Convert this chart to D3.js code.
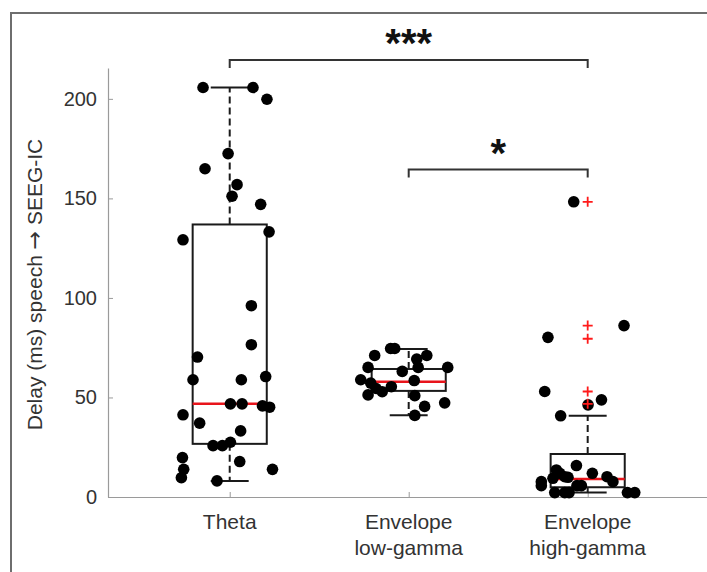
<!DOCTYPE html>
<html><head><meta charset="utf-8">
<script src="https://cdn.jsdelivr.net/npm/d3@7"></script>
<style>body{margin:0;background:#fff}svg{display:block}</style>
</head><body>
<svg id="chart" width="707" height="572"></svg>
<script>
// ---- data ----
const categories = [["Theta"], ["Envelope", "low-gamma"], ["Envelope", "high-gamma"]];
const yTicks = [0, 50, 100, 150, 200];
const yLabelParts = ["Delay (ms) speech ", "\u2192", " SEEG-IC"];

// box statistics
const boxQ1 = [26.7, 53.3, 4.9];
const boxMedian = [46.8, 57.9, 9.1];
const boxQ3 = [136.9, 64.3, 21.6];
const whiskerLow = [8.1, 41.1, 2.2];
const whiskerHigh = [205.7, 74.3, 40.8];
const outliersHighGamma = [148.3, 86.1, 79.5, 53.0, 46.8];

// individual points (value, jitter in category units)
const thetaValues = [205.7, 205.7, 199.8, 172.5, 164.9, 156.9, 151.1, 147.0, 133.2, 129.2, 96.1, 76.5, 70.3, 58.9, 58.9, 60.5, 46.8, 46.8, 45.8, 45.1, 41.3, 37.1, 33.2, 25.8, 25.8, 27.5, 19.8, 17.8, 13.9, 13.9, 9.7, 8.1];
const thetaJitter = [-0.149, 0.130, 0.208, -0.009, -0.138, 0.041, 0.013, 0.173, 0.220, -0.261, 0.121, 0.121, -0.180, -0.205, 0.065, 0.201, 0.004, 0.069, 0.183, 0.223, -0.261, -0.168, 0.061, -0.093, -0.041, 0.004, -0.264, 0.056, -0.257, 0.239, -0.270, -0.071];
const lowGammaValues = [74.6, 74.6, 71.1, 71.1, 69.3, 65.1, 65.1, 65.1, 63.1, 58.9, 57.2, 58.5, 55.4, 54.5, 52.9, 51.3, 50.9, 47.3, 45.5, 41.0];
const lowGammaJitter = [-0.101, -0.078, -0.190, 0.101, 0.045, -0.227, 0.218, 0.053, -0.036, -0.268, -0.212, 0.031, -0.097, -0.182, -0.148, -0.227, 0.034, 0.201, 0.089, 0.034];
const highGammaValues = [148.3, 80.2, 86.1, 53.0, 46.3, 48.8, 40.8, 13.6, 15.8, 11.9, 11.9, 10.2, 9.9, 10.2, 7.7, 9.4, 7.7, 5.7, 5.7, 5.7, 2.2, 2.2, 2.2, 2.2, 2.2];
const highGammaJitter = [-0.078, -0.222, 0.203, -0.240, 0.002, 0.077, -0.151, -0.175, -0.063, -0.156, 0.026, -0.128, -0.110, 0.108, 0.141, -0.194, -0.259, -0.259, -0.060, -0.035, -0.184, -0.128, -0.104, 0.222, 0.263];

// significance brackets
const bracketFrom = [1, 2];
const bracketTo = [3, 3];
const bracketLabel = ["***", "*"];
const bracketLevel = [219.5, 164.5];

// ---- drawing ----
const svg = d3.select("#chart");
const font = "'Liberation Sans', Arial, Helvetica, sans-serif";

// outer frame
svg.append("path").attr("d", "M11,572V13H707").attr("fill", "none")
  .attr("stroke", "#6e6e6e").attr("stroke-width", 2);

const x = d3.scaleLinear().domain([0.32, 3.68]).range([108, 709.4]);
const y = d3.scaleLinear().domain([0, 215.5]).range([497, 68]);
const pos = i => i + 1;
const boxHalf = 0.207, capHalf = 0.106;

// axes
const yAxis = svg.append("g").attr("transform", `translate(${x(0.32)},0)`)
  .call(d3.axisLeft(y).tickValues(yTicks).tickSizeInner(-5).tickSizeOuter(0).tickPadding(11));
const xAxis = svg.append("g").attr("transform", `translate(0,${y(0)})`)
  .call(d3.axisBottom(x).tickValues([1, 2, 3]).tickSizeInner(-5).tickSizeOuter(0).tickFormat(""));
[yAxis, xAxis].forEach(g => {
  g.select(".domain").attr("stroke", "#9a9a9a").attr("stroke-width", 1.2);
  g.selectAll(".tick line").attr("stroke", "#9a9a9a");
  g.selectAll("text").attr("font-family", font).attr("font-size", 20).attr("fill", "#333");
});

// category labels
categories.forEach((lines, i) => {
  const t = svg.append("text").attr("x", x(pos(i))).attr("y", y(0) + 32)
    .attr("text-anchor", "middle").attr("font-family", font).attr("font-size", 21).attr("fill", "#333");
  lines.forEach((ln, k) => t.append("tspan").attr("x", x(pos(i))).attr("dy", k === 0 ? 0 : 26).text(ln));
});

// y label
const yl = svg.append("text").attr("transform", `translate(42,${(y(0) + y(215.5)) / 2 + 2}) rotate(-90)`)
  .attr("text-anchor", "middle").attr("font-family", font).attr("font-size", 21).attr("fill", "#333");
yLabelParts.forEach((p, k) => {
  const ts = yl.append("tspan").text(p);
  if (k === 1) ts.attr("font-family", "'DejaVu Sans', sans-serif").attr("font-size", 22);
});

// boxes
const boxG = svg.append("g");
categories.forEach((c, i) => {
  const cx = pos(i);
  boxG.append("rect").attr("x", x(cx - boxHalf)).attr("y", y(boxQ3[i]))
    .attr("width", x(cx + boxHalf) - x(cx - boxHalf)).attr("height", y(boxQ1[i]) - y(boxQ3[i]))
    .attr("fill", "none").attr("stroke", "#1a1a1a").attr("stroke-width", 2);
  [[boxQ3[i], whiskerHigh[i]], [boxQ1[i], whiskerLow[i]]].forEach(([a, b]) => {
    boxG.append("line").attr("x1", x(cx)).attr("x2", x(cx)).attr("y1", y(a)).attr("y2", y(b))
      .attr("stroke", "#1a1a1a").attr("stroke-width", 2).attr("stroke-dasharray", "7,4");
    boxG.append("line").attr("x1", x(cx - capHalf)).attr("x2", x(cx + capHalf)).attr("y1", y(b)).attr("y2", y(b))
      .attr("stroke", "#1a1a1a").attr("stroke-width", 2);
  });
  boxG.append("line").attr("x1", x(cx - boxHalf)).attr("x2", x(cx + boxHalf))
    .attr("y1", y(boxMedian[i])).attr("y2", y(boxMedian[i]))
    .attr("stroke", "#e8141b").attr("stroke-width", 2.5);
});

// points
const groups = [[thetaValues, thetaJitter], [lowGammaValues, lowGammaJitter], [highGammaValues, highGammaJitter]];
groups.forEach(([vals, jit], i) => {
  svg.append("g").selectAll("circle").data(vals).join("circle")
    .attr("cx", (d, k) => x(pos(i) + jit[k])).attr("cy", d => y(d)).attr("r", 5.8).attr("fill", "#000");
});

// outliers (red +)
svg.append("g").selectAll("path").data(outliersHighGamma).join("path")
  .attr("d", d => `M${x(3) - 5},${y(d)}H${x(3) + 5}M${x(3)},${y(d) - 5}V${y(d) + 5}`)
  .attr("stroke", "#ff1a1a").attr("stroke-width", 1.8).attr("fill", "none");

// significance brackets
bracketLabel.forEach((lab, i) => {
  const yy = y(bracketLevel[i]);
  svg.append("path").attr("d", `M${x(bracketFrom[i])},${yy + 8}V${yy}H${x(bracketTo[i])}V${yy + 8}`)
    .attr("fill", "none").attr("stroke", "#333").attr("stroke-width", 2);
  svg.append("text").attr("x", (x(bracketFrom[i]) + x(bracketTo[i])) / 2).attr("y", yy - 3)
    .attr("text-anchor", "middle").attr("font-family", font).attr("font-weight", "bold")
    .attr("font-size", 40).attr("fill", "#111").text(lab);
});
</script>
</body></html>
